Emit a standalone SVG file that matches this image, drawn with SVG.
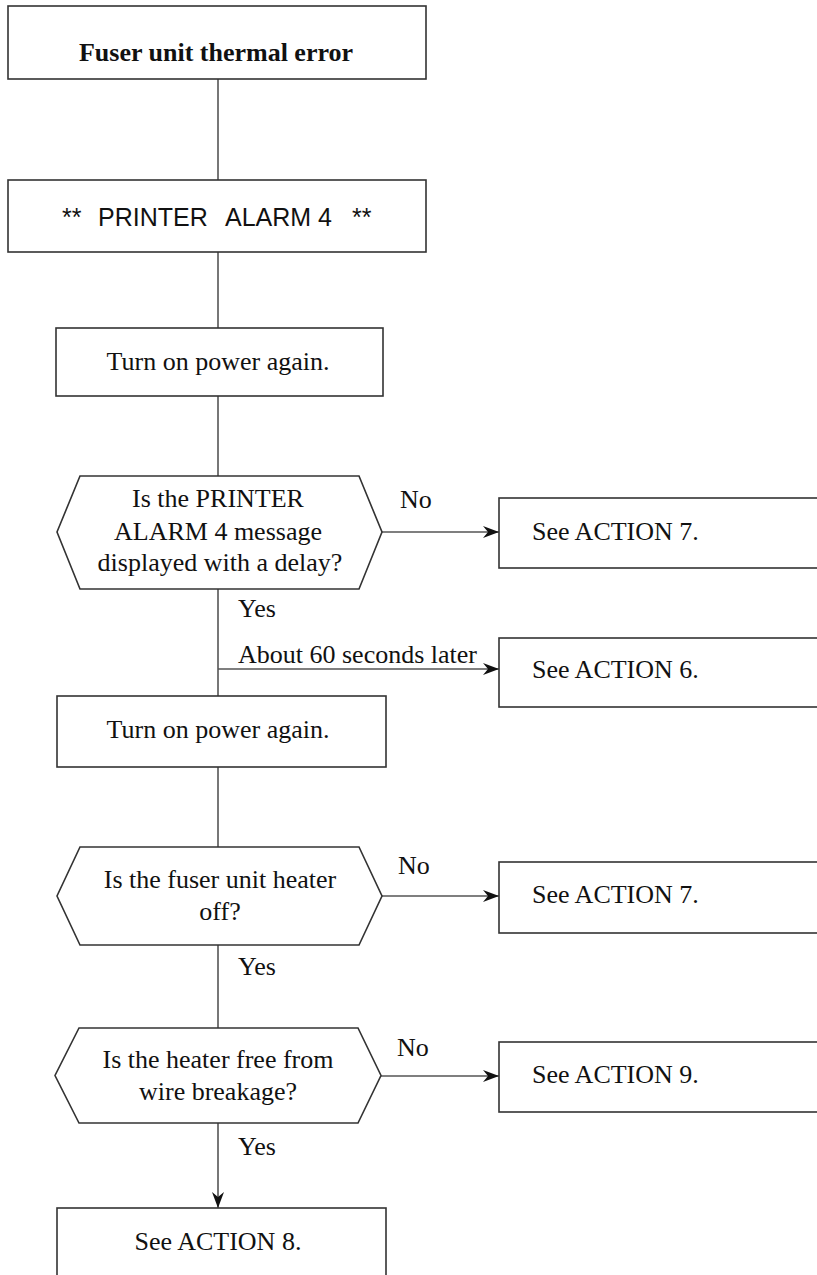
<svg xmlns="http://www.w3.org/2000/svg" width="817" height="1275" viewBox="0 0 817 1275">
<style>
.box{fill:#fff;stroke:#333;stroke-width:1.6}
.con{fill:none;stroke:#555;stroke-width:1.6}
.t{font-family:"Liberation Serif","Times New Roman",serif;font-size:26px;fill:#111}
.c{text-anchor:middle}
.b{font-weight:bold}
.s{font-family:"Liberation Sans",Arial,sans-serif;font-size:25px;fill:#111}
</style>
<defs>
<marker id="arr" markerUnits="userSpaceOnUse" markerWidth="18" markerHeight="14" refX="16" refY="7" orient="auto">
<path d="M0,1 L16,7 L0,13 L5,7 z" fill="#111"/>
</marker>
</defs>
<rect width="817" height="1275" fill="#fff"/>
<g id="connectors">
<line class="con" x1="218" y1="79" x2="218" y2="180"/>
<line class="con" x1="218" y1="252" x2="218" y2="328"/>
<line class="con" x1="218" y1="396" x2="218" y2="476"/>
<line class="con" x1="382" y1="532" x2="499" y2="532" marker-end="url(#arr)"/>
<line class="con" x1="218" y1="589" x2="218" y2="696"/>
<line class="con" x1="218" y1="669" x2="499" y2="669" marker-end="url(#arr)"/>
<line class="con" x1="218" y1="767" x2="218" y2="847"/>
<line class="con" x1="382" y1="896" x2="499" y2="896" marker-end="url(#arr)"/>
<line class="con" x1="218" y1="945" x2="218" y2="1028"/>
<line class="con" x1="381" y1="1076" x2="499" y2="1076" marker-end="url(#arr)"/>
<line class="con" x1="218" y1="1123" x2="218" y2="1208" marker-end="url(#arr)"/>
<text class="t" x="400" y="508">No</text>
<text class="t" x="238" y="617">Yes</text>
<text class="t" x="238" y="663">About 60 seconds later</text>
<text class="t" x="398" y="874">No</text>
<text class="t" x="238" y="975">Yes</text>
<text class="t" x="397" y="1056">No</text>
<text class="t" x="238" y="1155">Yes</text>
</g>
<g id="title">
<rect class="box" x="8" y="6" width="418" height="73"/>
<text class="t c b" x="216" y="61">Fuser unit thermal error</text>
</g>
<g id="alarm">
<rect class="box" x="8" y="180" width="418" height="72"/>
<text class="s"><tspan x="62" y="226">**</tspan><tspan x="98" y="226">PRINTER</tspan><tspan x="225" y="226">ALARM 4</tspan><tspan x="352" y="226">**</tspan></text>
</g>
<g id="power1">
<rect class="box" x="56" y="328" width="327" height="68"/>
<text class="t c" x="218" y="370">Turn on power again.</text>
</g>
<g id="q1">
<polygon class="box" points="80,476 359,476 382,532 359,589 80,589 57,532"/>
<text class="t c" x="218" y="507">Is the PRINTER</text>
<text class="t c" x="218" y="540">ALARM 4 message</text>
<text class="t c" x="220" y="571">displayed with a delay?</text>
</g>
<g id="action7a">
<rect class="box" x="499" y="498" width="340" height="70"/>
<text class="t" x="532" y="540">See ACTION 7.</text>
</g>
<g id="action6">
<rect class="box" x="499" y="638" width="340" height="69"/>
<text class="t" x="532" y="678">See ACTION 6.</text>
</g>
<g id="power2">
<rect class="box" x="57" y="696" width="329" height="71"/>
<text class="t c" x="218" y="738">Turn on power again.</text>
</g>
<g id="q2">
<polygon class="box" points="80,847 359,847 382,896 359,945 80,945 57,896"/>
<text class="t c" x="220" y="888">Is the fuser unit heater</text>
<text class="t c" x="220" y="920">off?</text>
</g>
<g id="action7b">
<rect class="box" x="499" y="862" width="340" height="71"/>
<text class="t" x="532" y="903">See ACTION 7.</text>
</g>
<g id="q3">
<polygon class="box" points="79,1028 358,1028 381,1075.5 358,1123 79,1123 55,1075.5"/>
<text class="t c" x="218" y="1068">Is the heater free from</text>
<text class="t c" x="218" y="1100">wire breakage?</text>
</g>
<g id="action9">
<rect class="box" x="499" y="1042" width="340" height="70"/>
<text class="t" x="532" y="1083">See ACTION 9.</text>
</g>
<g id="action8">
<rect class="box" x="57" y="1208" width="329" height="90"/>
<text class="t c" x="218" y="1250">See ACTION 8.</text>
</g>
</svg>
